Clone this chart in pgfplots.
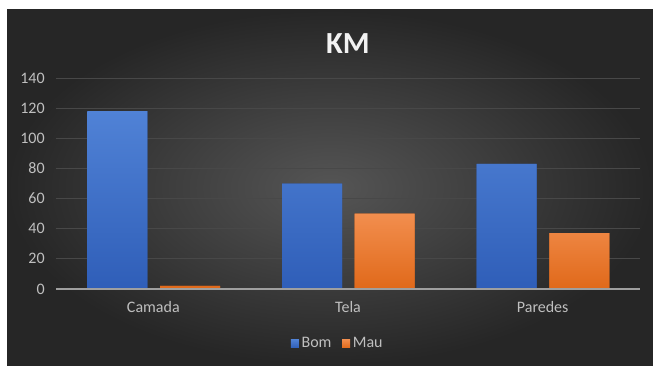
\documentclass[border=0pt]{standalone}
\usepackage{pgfplots}
\pgfplotsset{compat=1.18}
\usepackage{fontspec}
\setmainfont{Carlito}
\definecolor{bomA}{HTML}{5082D6}
\definecolor{bomB}{HTML}{2F5EB8}
\definecolor{mauA}{HTML}{F28E4E}
\definecolor{mauB}{HTML}{E0691A}
\definecolor{bgIn}{HTML}{555555}
\definecolor{bgOut}{HTML}{262626}
\definecolor{gridc}{HTML}{484848}
\definecolor{txt}{HTML}{BFBFBF}
\begin{document}
\begin{tikzpicture}
\path[use as bounding box, fill=white] (0pt,0pt) rectangle (489.75pt,273.75pt);
\shade[inner color=bgIn, outer color=bgOut] (5.25pt,0pt) rectangle (489.75pt,266.25pt);
\begin{axis}[
  at={(42pt,57pt)}, anchor=south west,
  scale only axis, width=438pt, height=158.25pt,
  xmin=-0.5, xmax=2.5, ymin=0, ymax=140,
  ytick={0,20,...,140},
  xtick={0,1,2}, xticklabels={Camada,Tela,Paredes},
  axis line style={draw=none},
  major tick length=0pt,
  ymajorgrids, grid style={gridc, line width=0.6pt},
  tick label style={font=\fontsize{12}{14}\selectfont, text=txt},
  /pgf/number format/assume math mode=true,
  yticklabel style={xshift=-5pt},
  xticklabel style={yshift=-6pt},
  ybar, bar width=45pt,
  legend style={at={(0.483,-0.26)}, anchor=center, draw=none, fill=none,
    legend columns=2, font=\fontsize{12}{14}\selectfont, text=txt,
    /tikz/every even column/.append style={column sep=6pt}},
  legend image code/.code={\fill[#1] (0pt,-3pt) rectangle (6pt,3.5pt);},
  clip=false,
]
\addplot[bar shift=-27pt, draw=none, fill=bomB, top color=bomA, bottom color=bomB] coordinates {(0,118) (1,70) (2,83)};
\addplot[bar shift=27.5pt, draw=none, fill=mauB, top color=mauA, bottom color=mauB] coordinates {(0,2) (1,50) (2,37)};
\legend{Bom,Mau}
\draw[color=gray!75, line width=0.8pt] (rel axis cs:0,0) -- (rel axis cs:1,0);
\node[text=white!95!black, font=\bfseries\fontsize{23}{26}\selectfont] at (rel axis cs:0.5,1.161) {KM};
\end{axis}
\end{tikzpicture}
\end{document}
